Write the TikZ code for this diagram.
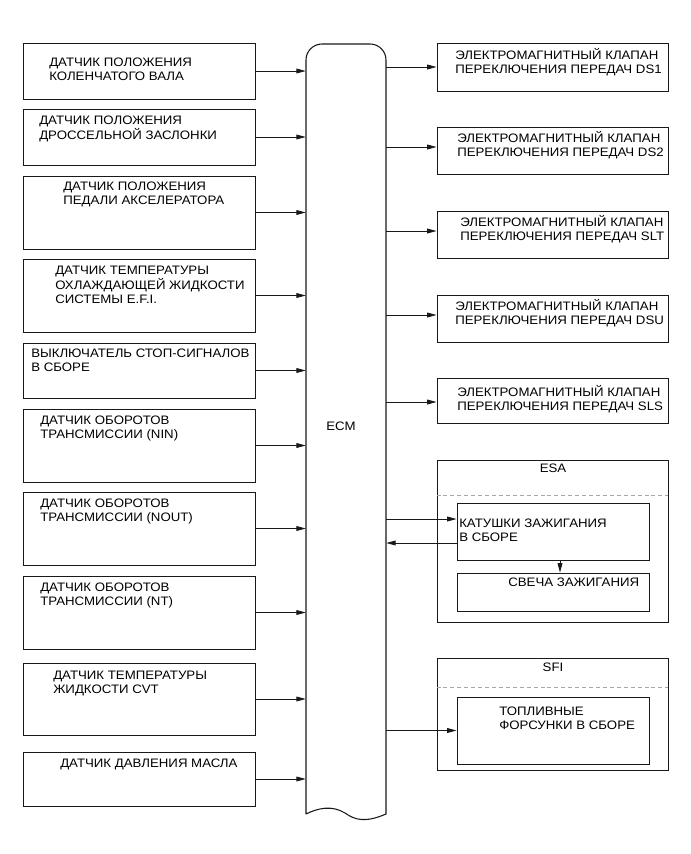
\documentclass[tikz,border=0pt]{standalone}
\usepackage{fontspec}
\setmainfont{Liberation Sans}[FakeStretch=1.08]
\usetikzlibrary{arrows.meta,fit,calc}
\newcommand\ml[1]{\begin{tabular}[t]{@{}l@{}}#1\end{tabular}}
\newcommand\fsz{\fontsize{9.2}{10.9}\selectfont}
\tikzset{
  boxst/.style={draw=black!90, line width=0.7pt, inner sep=0pt},
  txt/.style={anchor=base west, inner sep=0pt, font=\fsz},
  lbl/.style={inner sep=0pt, font=\fsz},
  arr/.style={draw=black!90, line width=0.6pt, -{Triangle[length=7pt,width=3.6pt]}},
  dsh/.style={draw=black!35, line width=0.7pt, dash pattern=on 3pt off 2.2pt}
}
\begin{document}
\begin{tikzpicture}[x=0.75pt,y=-0.75pt]
\useasboundingbox (0,0) rectangle (691,854);
% ECM
\node[fit={(306,44) (386,814)}, inner sep=0pt] (ecm) {};
\draw[line width=0.8pt, black!90] (306,814) -- (306,60) arc[start angle=180,end angle=270,radius=16] -- (370,44)
  arc[start angle=270,end angle=360,radius=16] -- (386,814)
  .. controls (365,823) and (355,820) .. (345,813)
  .. controls (332,805) and (318,808) .. (306,814);
\node[lbl] (ecmt) at (341,426) {ECM};
% left boxes
\node[boxst, fit={(23,43) (255,99)}] (L1) {};
\node[boxst, fit={(23,109) (255,165)}] (L2) {};
\node[boxst, fit={(23,176) (255,249)}] (L3) {};
\node[boxst, fit={(23,259) (255,332)}] (L4) {};
\node[boxst, fit={(23,343) (255,398)}] (L5) {};
\node[boxst, fit={(23,409) (255,482)}] (L6) {};
\node[boxst, fit={(23,492) (255,565)}] (L7) {};
\node[boxst, fit={(23,576) (255,649)}] (L8) {};
\node[boxst, fit={(23,663) (255,735)}] (L9) {};
\node[boxst, fit={(23,752) (255,806)}] (L10) {};
\node[txt] (L1t) at (49,66) {\ml{ДАТЧИК ПОЛОЖЕНИЯ\\КОЛЕНЧАТОГО ВАЛА}};
\node[txt] (L2t) at (39,124) {\ml{ДАТЧИК ПОЛОЖЕНИЯ\\ДРОССЕЛЬНОЙ ЗАСЛОНКИ}};
\node[txt] (L3t) at (63,190) {\ml{ДАТЧИК ПОЛОЖЕНИЯ\\ПЕДАЛИ АКСЕЛЕРАТОРА}};
\node[txt] (L4t) at (55,274) {\ml{ДАТЧИК ТЕМПЕРАТУРЫ\\ОХЛАЖДАЮЩЕЙ ЖИДКОСТИ\\СИСТЕМЫ E.F.I.}};
\node[txt] (L5t) at (31,357) {\ml{ВЫКЛЮЧАТЕЛЬ СТОП-СИГНАЛОВ\\В СБОРЕ}};
\node[txt] (L6t) at (40,424) {\ml{ДАТЧИК ОБОРОТОВ\\ТРАНСМИССИИ (NIN)}};
\node[txt] (L7t) at (40,507) {\ml{ДАТЧИК ОБОРОТОВ\\ТРАНСМИССИИ (NOUT)}};
\node[txt] (L8t) at (40,591) {\ml{ДАТЧИК ОБОРОТОВ\\ТРАНСМИССИИ (NT)}};
\node[txt] (L9t) at (53,679) {\ml{ДАТЧИК ТЕМПЕРАТУРЫ\\ЖИДКОСТИ CVT}};
\node[txt] (L10t) at (60,767) {ДАТЧИК ДАВЛЕНИЯ МАСЛА};
\foreach \i in {1,...,10} {\draw[arr] (L\i.east) -- (L\i.east -| ecm.west);}
% right boxes
\node[boxst, fit={(437,43) (668,91)}] (R1) {};
\node[boxst, fit={(437,127) (668,174)}] (R2) {};
\node[boxst, fit={(437,211) (668,258)}] (R3) {};
\node[boxst, fit={(437,295) (668,342)}] (R4) {};
\node[boxst, fit={(437,378) (668,423)}] (R5) {};
\node[txt] (R1t) at (455,59) {\ml{ЭЛЕКТРОМАГНИТНЫЙ КЛАПАН\\ПЕРЕКЛЮЧЕНИЯ ПЕРЕДАЧ DS1}};
\node[txt] (R2t) at (457,142) {\ml{ЭЛЕКТРОМАГНИТНЫЙ КЛАПАН\\ПЕРЕКЛЮЧЕНИЯ ПЕРЕДАЧ DS2}};
\node[txt] (R3t) at (460,226) {\ml{ЭЛЕКТРОМАГНИТНЫЙ КЛАПАН\\ПЕРЕКЛЮЧЕНИЯ ПЕРЕДАЧ SLT}};
\node[txt] (R4t) at (455,310) {\ml{ЭЛЕКТРОМАГНИТНЫЙ КЛАПАН\\ПЕРЕКЛЮЧЕНИЯ ПЕРЕДАЧ DSU}};
\node[txt] (R5t) at (457,396) {\ml{ЭЛЕКТРОМАГНИТНЫЙ КЛАПАН\\ПЕРЕКЛЮЧЕНИЯ ПЕРЕДАЧ SLS}};
\draw[arr] (ecm.east |- R1.west) -- (R1.west);
\draw[arr] ($(ecm.east |- R2.west)+(0,-3.5)$) -- ($(R2.west)+(0,-3.5)$);
\draw[arr] ($(ecm.east |- R3.west)+(0,-3.5)$) -- ($(R3.west)+(0,-3.5)$);
\draw[arr] ($(ecm.east |- R4.west)+(0,-3.5)$) -- ($(R4.west)+(0,-3.5)$);
\draw[arr] ($(ecm.east |- R5.west)+(0,1.5)$) -- ($(R5.west)+(0,1.5)$);
% ESA
\node[boxst, fit={(437,460) (668,622)}] (esa) {};
\draw[dsh] (esa.west |- 0,495) -- (esa.east |- 0,495);
\node[lbl] (esat) at (553,468) {ESA};
\node[boxst, fit={(457,503) (649,560)}] (kat) {};
\node[boxst, fit={(457,573) (649,611)}] (svc) {};
\node[txt] (katt) at (459,527) {\ml{КАТУШКИ ЗАЖИГАНИЯ\\В СБОРЕ}};
\node[txt] (svct) at (508,586) {СВЕЧА ЗАЖИГАНИЯ};
\draw[arr] ($(ecm.east |- kat.west)+(0,-12.5)$) -- ($(kat.west)+(0,-12.5)$);
\draw[arr] ($(kat.west)+(0,11.5)$) -- ($(ecm.east |- kat.west)+(0,11.5)$);
\draw[arr] ($(kat.south)+(7,0)$) -- ($(svc.north)+(7,0)$);
% SFI
\node[boxst, fit={(437,658) (668,770)}] (sfi) {};
\draw[dsh] (sfi.west |- 0,687) -- (sfi.east |- 0,687);
\node[lbl] (sfit) at (553,667) {SFI};
\node[boxst, fit={(457,697) (649,764)}] (inj) {};
\node[txt] (injt) at (499,715) {\ml{ТОПЛИВНЫЕ\\ФОРСУНКИ В СБОРЕ}};
\draw[arr] (ecm.east |- inj.west) -- (inj.west);
\end{tikzpicture}
\end{document}
